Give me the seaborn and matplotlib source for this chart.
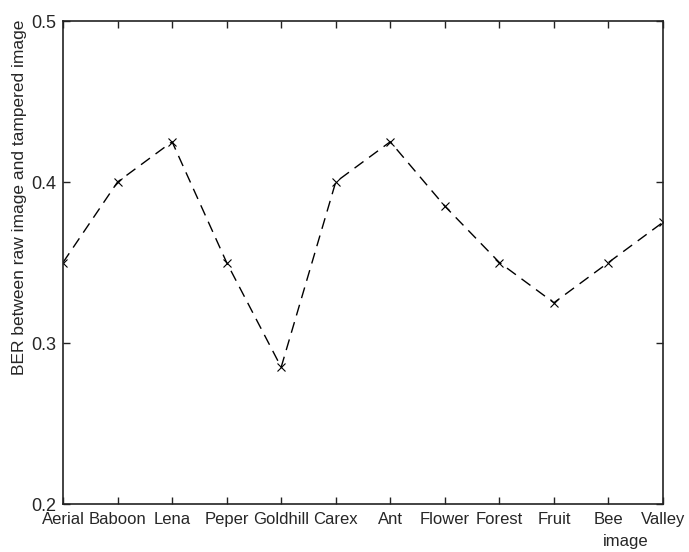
import matplotlib
matplotlib.use("Agg")
import matplotlib.pyplot as plt
import seaborn as sns
import pandas as pd

images = ["Aerial", "Baboon", "Lena", "Peper", "Goldhill", "Carex", "Ant",
          "Flower", "Forest", "Fruit", "Bee", "Valley"]
ber = [0.35, 0.40, 0.425, 0.35, 0.285, 0.40, 0.425, 0.385, 0.35, 0.325, 0.35, 0.375]
yticks = [0.2, 0.3, 0.4, 0.5]

sns.set_style("white")
plt.rcParams['font.family'] = ['Liberation Sans', 'DejaVu Sans']

df = pd.DataFrame({"idx": range(1, len(images) + 1), "ber": ber})

fs = 12
fig = plt.figure(figsize=(6.89, 5.52), dpi=100)
ax = fig.add_axes([63/689, 48/552, 600/689, 483/552])
sns.lineplot(data=df, x="idx", y="ber", ax=ax, color="black", linestyle=(0, (8, 5)),
             linewidth=1.0, marker="x", markersize=6, markeredgewidth=0.8,
             markeredgecolor="black")
ax.set_xlim(1, len(images))
ax.set_ylim(0.2, 0.5)
ax.set_xticks(range(1, len(images) + 1))
ax.set_xticklabels(images, fontsize=fs)
ax.set_yticks(yticks)
ax.set_yticklabels([f"{v:.1f}" for v in yticks], fontsize=fs + 1)
ax.tick_params(direction="in", length=5, width=1, top=True, right=True,
               bottom=True, left=True, color="#222222")
ax.tick_params(axis="x", pad=6)
ax.tick_params(axis="y", pad=5)
ax.set_xlabel("image", fontsize=fs)
ax.xaxis.set_label_coords(0.937, -0.062)
ax.set_ylabel("BER between raw image and tampered image", fontsize=fs + 0.5)
ax.yaxis.set_label_coords(-0.06, 0.635)
for s in ax.spines.values():
    s.set_color("#222222")
    s.set_linewidth(1.2)
fig.savefig("out.png", dpi=100)
